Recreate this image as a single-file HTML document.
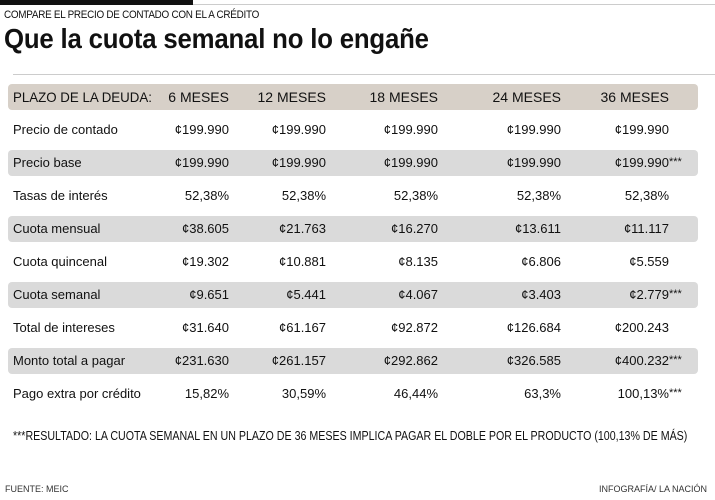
<!DOCTYPE html>
<html><head><meta charset="utf-8"><style>
body{margin:0;width:715px;height:500px;background:#fff;position:relative;overflow:hidden;font-family:"Liberation Sans",Arial,sans-serif;color:#111}
.a{position:absolute;white-space:nowrap}
.bar{position:absolute;left:8px;width:690px;height:26px;border-radius:4px}
.r{position:absolute;white-space:nowrap;font-size:13px;text-align:right;width:120px}
.s{position:absolute;left:100%;font-size:11px;top:1px}
</style></head><body>
<div class="a" style="left:0;top:0;width:193px;height:5px;background:#111"></div>
<div class="a" style="left:193px;top:4px;width:522px;height:1px;background:#ccc"></div>
<div class="a" style="left:4px;top:9px;font-size:11px;letter-spacing:-0.3px;transform:scaleX(0.9);transform-origin:left">COMPARE EL PRECIO DE CONTADO CON EL A CRÉDITO</div>
<div class="a" style="left:4px;top:23px;font-size:28px;font-weight:bold;letter-spacing:-0.2px;transform:scaleX(0.92);transform-origin:left">Que la cuota semanal no lo engañe</div>
<div class="a" style="left:13px;top:74px;width:702px;height:1px;background:#ccc"></div>
<div class="bar" style="top:84px;background:#d7d0c8"></div>
<div class="bar" style="top:150px;background:#dadada"></div>
<div class="bar" style="top:216px;background:#dadada"></div>
<div class="bar" style="top:282px;background:#dadada"></div>
<div class="bar" style="top:348px;background:#dadada"></div>
<div id="t"></div>
<div class="a" style="left:13px;top:428px;font-size:13px;transform:scaleX(0.82);transform-origin:left">***RESULTADO: LA CUOTA SEMANAL EN UN PLAZO DE 36 MESES IMPLICA PAGAR EL DOBLE POR EL PRODUCTO (100,13% DE MÁS)</div>
<div class="a" style="left:5px;top:484px;font-size:9px;color:#333">FUENTE: MEIC</div>
<div class="a" style="right:8px;top:484px;font-size:9px;color:#333">INFOGRAFÍA/ LA NACIÓN</div>
<script>
var R=[229,326,438,561,669];
var rows=[
["PLAZO DE LA DEUDA:","6 MESES","12 MESES","18 MESES","24 MESES","36 MESES"],
["Precio de contado","¢199.990","¢199.990","¢199.990","¢199.990","¢199.990"],
["Precio base","¢199.990","¢199.990","¢199.990","¢199.990","¢199.990***"],
["Tasas de interés","52,38%","52,38%","52,38%","52,38%","52,38%"],
["Cuota mensual","¢38.605","¢21.763","¢16.270","¢13.611","¢11.117"],
["Cuota quincenal","¢19.302","¢10.881","¢8.135","¢6.806","¢5.559"],
["Cuota semanal","¢9.651","¢5.441","¢4.067","¢3.403","¢2.779***"],
["Total de intereses","¢31.640","¢61.167","¢92.872","¢126.684","¢200.243"],
["Monto total a pagar","¢231.630","¢261.157","¢292.862","¢326.585","¢400.232***"],
["Pago extra por crédito","15,82%","30,59%","46,44%","63,3%","100,13%***"]];
var h="";
rows.forEach(function(r,i){
 var top=89+i*33, fs=i==0?14:13;
 var tr=i==0?'transform:scaleX(0.95);transform-origin:left;':'';
 h+='<div class="a" style="left:13px;top:'+top+'px;font-size:'+fs+'px;'+tr+'">'+r[0]+'</div>';
 for(var j=1;j<6;j++){
  var v=r[j],st="";
  if(v.indexOf("***")>0){v=v.replace("***","");st='<span class="s">***</span>';}
  h+='<div class="r" style="left:'+(R[j-1]-120)+'px;top:'+top+'px;font-size:'+fs+'px"><span style="position:relative">'+v+st+'</span></div>';
 }
});
document.getElementById("t").innerHTML=h;
</script>
</body></html>
